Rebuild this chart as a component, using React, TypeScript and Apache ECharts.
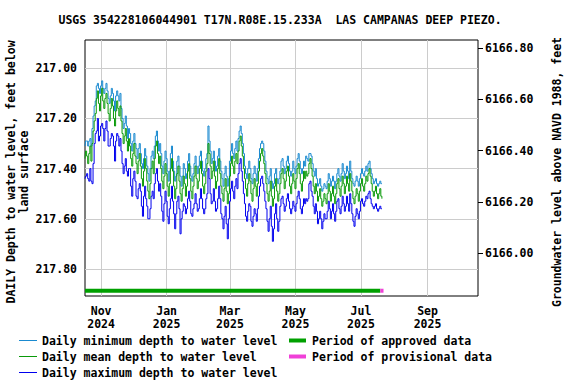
import React, { useEffect, useRef } from "react";
import * as echarts from "echarts";

const TITLE = "USGS 354228106044901 T17N.R08E.15.233A  LAS CAMPANAS DEEP PIEZO.";
const LEFT_NAME = "DAILY Depth to water level, feet below\nland surface";
const RIGHT_NAME = "Groundwater level above NAVD 1988, feet";

const START_DATE = "2024-10-17";
const AXIS_END_DATE = "2025-10-18";
const xTickDates = ["2024-11-01", "2025-01-01", "2025-03-01", "2025-05-01", "2025-07-01", "2025-09-01"];
const xTickLabels = ["Nov\n2024", "Jan\n2025", "Mar\n2025", "May\n2025", "Jul\n2025", "Sep\n2025"];
const depthTicks = [217.0, 217.2, 217.4, 217.6, 217.8];
const elevTicks = [6166.0, 6166.2, 6166.4, 6166.6, 6166.8];
const depthRange = [216.887, 217.908];
const elevRange = [6165.833, 6166.832];
const approvedPeriod = ["2024-10-17", "2025-07-19"];
const provisionalPeriod = ["2025-07-19", "2025-07-22"];
const periodBarDepth = 217.887;

const legendItems = [
  { label: "Daily minimum depth to water level", color: "#1a8ad0", kind: "line" },
  { label: "Daily mean depth to water level", color: "#0a9a0a", kind: "line" },
  { label: "Daily maximum depth to water level", color: "#0000ee", kind: "line" },
  { label: "Period of approved data", color: "#00a000", kind: "bar" },
  { label: "Period of provisional data", color: "#f040d8", kind: "bar" },
];

const dailyMean = [
  217.36,217.33,217.35,217.38,217.34,217.31,217.37,
  217.30,217.25,217.21,217.18,
  217.12,217.09,217.14,217.17,217.11,217.08,217.13,217.16,217.12,217.10,
  217.14,217.18,217.21,217.16,217.12,217.15,217.20,217.23,217.17,217.13,217.16,217.19,217.15,
  217.21,217.26,217.30,217.27,217.24,217.29,
  217.33,217.28,217.31,217.36,217.39,217.34,217.30,217.35,217.38,
  217.42,217.37,217.34,217.39,217.44,217.47,217.41,217.36,217.40,217.45,217.49,217.52,217.46,217.40,217.37,217.42,
  217.36,217.31,217.29,217.34,217.38,217.35,
  217.40,217.45,217.48,217.43,217.38,217.42,217.47,
  217.51,217.46,217.40,217.36,217.41,217.47,217.52,217.48,217.42,217.39,217.45,217.50,
  217.53,217.48,217.43,217.46,217.51,217.47,217.41,217.38,217.44,217.49,217.52,217.47,217.43,
  217.39,217.44,217.48,217.45,217.40,217.37,217.42,217.47,217.50,217.46,217.41,217.38,
  217.30,
  217.34,217.39,217.44,217.41,217.37,217.43,217.48,217.45,217.40,217.36,217.42,217.47,
  217.50,217.53,217.48,217.44,217.49,217.54,217.50,
  217.43,217.38,217.35,217.39,217.42,217.37,217.34,217.38,
  217.33,217.29,217.27,217.31,217.35,217.40,
  217.44,217.48,217.51,217.46,217.42,217.45,217.50,217.53,217.48,217.44,217.47,217.51,
  217.46,217.41,217.37,217.34,217.32,217.35,217.38,217.42,
  217.46,217.50,217.53,217.49,217.45,217.51,217.55,217.52,217.47,217.44,217.49,217.53,217.50,
  217.46,217.42,217.40,217.44,217.48,217.45,217.41,217.39,217.43,217.47,217.50,217.46,217.42,217.45,217.48,
  217.44,217.40,217.38,217.42,217.46,217.49,217.45,217.41,217.44,217.41,217.43,217.42,
  217.38,217.36,217.40,
  217.43,217.47,217.50,217.46,
  217.49,217.53,217.51,217.48,217.52,217.55,217.53,217.50,217.52,
  217.54,217.50,217.46,217.49,217.53,217.50,217.47,217.51,217.54,217.50,217.46,
  217.44,217.48,217.51,217.47,217.43,217.46,217.50,217.47,217.43,217.46,217.49,
  217.42,
  217.45,217.49,217.52,217.54,217.51,217.48,217.50,217.53,217.49,
  217.46,217.44,217.47,217.49,217.46,217.43,217.45,217.42,217.40,217.43,217.46,217.49,
  217.51,217.49,217.47,217.50,217.52,217.50,217.48,217.51,217.52,
];

const dailyMin = [
  217.31,217.29,217.29,217.31,217.29,217.28,217.31,
  217.24,217.19,217.15,217.13,
  217.07,217.06,217.08,217.10,217.07,217.05,217.08,217.10,217.08,217.06,
  217.09,217.12,217.14,217.11,217.08,217.10,217.13,217.17,217.11,217.09,217.11,217.13,217.10,
  217.16,217.20,217.24,217.22,217.19,217.23,
  217.28,217.24,217.26,217.30,217.33,217.29,217.26,217.30,217.32,
  217.36,217.32,217.30,217.34,217.38,217.40,217.36,217.32,217.35,217.39,217.42,217.45,217.40,217.35,217.33,217.36,
  217.31,217.27,217.25,217.29,217.33,217.30,
  217.34,217.39,217.42,217.37,217.33,217.36,217.41,
  217.45,217.41,217.34,217.31,217.37,217.41,217.45,217.43,217.37,217.35,217.39,217.43,
  217.47,217.43,217.38,217.40,217.44,217.42,217.37,217.34,217.39,217.43,217.45,217.42,217.38,
  217.35,217.39,217.42,217.39,217.35,217.33,217.37,217.41,217.43,217.40,217.36,217.34,
  217.23,
  217.29,217.33,217.38,217.36,217.33,217.37,217.41,217.39,217.35,217.32,217.37,217.41,
  217.44,217.47,217.42,217.39,217.43,217.47,217.44,
  217.37,217.33,217.30,217.34,217.36,217.32,217.29,217.33,
  217.28,217.25,217.23,217.26,217.30,217.34,
  217.39,217.42,217.44,217.40,217.37,217.40,217.44,217.46,217.42,217.39,217.42,217.45,
  217.40,217.36,217.32,217.30,217.29,217.30,217.33,217.37,
  217.41,217.44,217.46,217.43,217.40,217.45,217.48,217.46,217.42,217.40,217.44,217.46,217.44,
  217.41,217.37,217.36,217.39,217.42,217.40,217.37,217.35,217.38,217.41,217.43,217.41,217.37,217.40,217.42,
  217.39,217.36,217.34,217.37,217.40,217.42,217.40,217.37,217.39,217.35,217.36,217.37,
  217.34,217.34,217.35,
  217.38,217.41,217.43,217.40,
  217.44,217.47,217.46,217.44,217.47,217.49,217.48,217.46,217.47,
  217.48,217.45,217.42,217.44,217.47,217.45,217.43,217.45,217.48,217.45,217.42,
  217.40,217.43,217.45,217.42,217.38,217.41,217.44,217.42,217.39,217.41,217.44,
  217.37,
  217.41,217.44,217.46,217.47,217.45,217.43,217.45,217.47,217.44,
  217.42,217.40,217.42,217.43,217.41,217.39,217.41,217.38,217.37,217.40,217.42,217.44,
  217.46,217.45,217.44,217.46,217.47,217.46,217.45,217.46,217.46,
];

const dailyMax = [
  217.44,217.43,217.42,217.44,217.45,217.40,217.45,
  217.46,217.38,217.30,217.26,
  217.25,217.20,217.29,217.27,217.23,217.22,217.24,217.29,217.24,217.21,
  217.25,217.31,217.31,217.28,217.26,217.27,217.31,217.37,217.29,217.26,217.27,217.31,217.28,
  217.33,217.38,217.42,217.39,217.36,217.41,
  217.43,217.40,217.40,217.47,217.51,217.44,217.41,217.45,217.51,
  217.52,217.48,217.46,217.49,217.55,217.59,217.51,217.47,217.52,217.55,217.60,217.60,217.56,217.51,217.49,217.52,
  217.46,217.42,217.40,217.45,217.49,217.46,
  217.51,217.57,217.61,217.54,217.49,217.53,217.59,
  217.62,217.56,217.52,217.47,217.53,217.58,217.64,217.58,217.53,217.51,217.56,217.66,
  217.60,217.57,217.54,217.55,217.58,217.56,217.52,217.49,217.53,217.58,217.59,217.56,217.54,
  217.50,217.54,217.57,217.56,217.52,217.48,217.52,217.56,217.58,217.56,217.52,217.50,
  217.40,
  217.44,217.50,217.54,217.53,217.48,217.53,217.57,217.56,217.52,217.47,217.52,217.58,
  217.60,217.64,217.59,217.55,217.62,217.68,217.60,
  217.53,217.48,217.45,217.49,217.52,217.47,217.44,217.48,
  217.42,217.38,217.36,217.41,217.45,217.50,
  217.54,217.59,217.61,217.57,217.54,217.55,217.61,217.63,217.59,217.56,217.58,217.61,
  217.56,217.51,217.47,217.44,217.43,217.46,217.49,217.53,
  217.56,217.61,217.65,217.60,217.55,217.63,217.69,217.64,217.58,217.54,217.60,217.65,217.61,
  217.55,217.52,217.51,217.54,217.57,217.55,217.52,217.50,217.53,217.56,217.58,217.56,217.53,217.55,217.57,
  217.54,217.51,217.49,217.52,217.56,217.58,217.55,217.52,217.54,217.52,217.53,217.52,
  217.46,217.45,217.49,
  217.51,217.55,217.58,217.54,
  217.57,217.62,217.60,217.57,217.60,217.64,217.61,217.58,217.60,
  217.60,217.57,217.53,217.56,217.60,217.57,217.54,217.58,217.61,217.57,217.53,
  217.52,217.56,217.58,217.55,217.51,217.54,217.57,217.55,217.51,217.54,217.57,
  217.50,
  217.54,217.58,217.61,217.63,217.59,217.56,217.58,217.60,217.57,
  217.53,217.52,217.54,217.55,217.53,217.51,217.52,217.50,217.49,217.52,217.54,217.55,
  217.56,217.55,217.54,217.56,217.57,217.56,217.55,217.56,217.56,
];

const DAY_MS = 86400000;
const dayOf = (d: string) => Math.round((Date.parse(d) - Date.parse(START_DATE)) / DAY_MS);

const FONT = '"DejaVu Sans Mono", monospace';
const FS = 11.5;

export default function App() {
  const ref = useRef<HTMLDivElement>(null);

  useEffect(() => {
    if (!ref.current) return;
    const chart = echarts.init(ref.current, undefined, { renderer: "svg" });
    const xTickDays = xTickDates.map(dayOf);
    const toPairs = (arr: number[]) => arr.map((v, i) => [i, v]);
    const textBase = { fontFamily: FONT, fontSize: FS, fontWeight: "bold", fill: "#000" };

    const legendGraphics: any[] = [];
    const rowY = [340.5, 356.5, 372.5];
    legendItems.forEach((it, idx) => {
      const col = idx < 3 ? 0 : 1;
      const row = idx < 3 ? idx : idx - 3;
      const y = rowY[row];
      const x0 = col === 0 ? 19 : 289;
      if (it.kind === "line") {
        legendGraphics.push({
          type: "line",
          shape: { x1: x0, y1: y, x2: x0 + 18, y2: y },
          style: { stroke: it.color, lineWidth: 1 },
        });
      } else {
        legendGraphics.push({
          type: "rect",
          shape: { x: x0, y: y - 2, width: 17, height: 4 },
          style: { fill: it.color },
        });
      }
      legendGraphics.push({
        type: "text",
        x: col === 0 ? 42 : 312,
        y: y,
        style: { ...textBase, text: it.label, align: "left", verticalAlign: "middle" },
      });
    });

    chart.setOption({
      animation: false,
      grid: {
        left: 85,
        top: 40,
        width: 393,
        height: 256,
        show: true,
        borderColor: "#000",
        borderWidth: 1,
        backgroundColor: "transparent",
      },
      xAxis: {
        type: "value",
        min: 0,
        max: dayOf(AXIS_END_DATE),
        axisLine: { show: false },
        axisTick: { show: false, customValues: xTickDays },
        splitLine: { show: true, lineStyle: { color: "#cccccc", width: 1 } },
        axisLabel: {
          customValues: xTickDays,
          formatter: (v: number) => {
            const i = xTickDays.indexOf(Math.round(v));
            return i >= 0 ? xTickLabels[i] : "";
          },
          margin: 8,
          lineHeight: 13,
          fontFamily: FONT,
          fontSize: FS,
          fontWeight: "bold",
          color: "#000",
        },
      },
      yAxis: [
        {
          type: "value",
          inverse: true,
          min: depthRange[0],
          max: depthRange[1],
          position: "left",
          axisLine: { show: false },
          axisTick: { show: false, customValues: depthTicks },
          splitLine: { show: true, lineStyle: { color: "#cccccc", width: 1 } },
          axisLabel: {
            customValues: depthTicks,
            formatter: (v: number) => v.toFixed(2),
            margin: 8,
            fontFamily: FONT,
            fontSize: FS,
            fontWeight: "bold",
            color: "#000",
          },
        },
        {
          type: "value",
          min: elevRange[0],
          max: elevRange[1],
          position: "right",
          axisLine: { show: false },
          axisTick: {
            show: true,
            inside: false,
            length: 5,
            customValues: elevTicks,
            lineStyle: { color: "#000", width: 1 },
          },
          splitLine: { show: false },
          axisLabel: {
            customValues: elevTicks,
            formatter: (v: number) => v.toFixed(2),
            margin: 7,
            fontFamily: FONT,
            fontSize: FS,
            fontWeight: "bold",
            color: "#000",
          },
        },
      ],
      series: [
        {
          name: "Daily maximum depth to water level",
          type: "line",
          step: "middle",
          yAxisIndex: 0,
          data: toPairs(dailyMax),
          symbol: "none",
          lineStyle: { color: legendItems[2].color, width: 1 },
        },
        {
          name: "Daily minimum depth to water level",
          type: "line",
          step: "middle",
          yAxisIndex: 0,
          data: toPairs(dailyMin),
          symbol: "none",
          lineStyle: { color: legendItems[0].color, width: 1 },
        },
        {
          name: "Daily mean depth to water level",
          type: "line",
          step: "middle",
          yAxisIndex: 0,
          data: toPairs(dailyMean),
          symbol: "none",
          lineStyle: { color: legendItems[1].color, width: 1 },
        },
        {
          name: "Period of approved data",
          type: "line",
          yAxisIndex: 0,
          data: approvedPeriod.map((d) => [dayOf(d), periodBarDepth]),
          symbol: "none",
          lineStyle: { color: legendItems[3].color, width: 4, cap: "butt" },
        },
        {
          name: "Period of provisional data",
          type: "line",
          yAxisIndex: 0,
          data: provisionalPeriod.map((d) => [dayOf(d), periodBarDepth]),
          symbol: "none",
          lineStyle: { color: legendItems[4].color, width: 4, cap: "butt" },
        },
      ],
      graphic: [
        {
          type: "text",
          x: 280,
          y: 20,
          style: { ...textBase, text: TITLE, align: "center", verticalAlign: "middle" },
        },
        {
          type: "text",
          x: 17.5,
          y: 172,
          rotation: Math.PI / 2,
          style: { ...textBase, text: LEFT_NAME, align: "center", verticalAlign: "middle", lineHeight: 13 },
        },
        {
          type: "text",
          x: 557,
          y: 172,
          rotation: Math.PI / 2,
          style: { ...textBase, text: RIGHT_NAME, align: "center", verticalAlign: "middle" },
        },
        ...legendGraphics,
      ],
    });
    return () => chart.dispose();
  }, []);

  return (
    <div
      ref={ref}
      style={{ position: "fixed", left: 0, top: 0, width: 576, height: 384, background: "#fff" }}
    />
  );
}
